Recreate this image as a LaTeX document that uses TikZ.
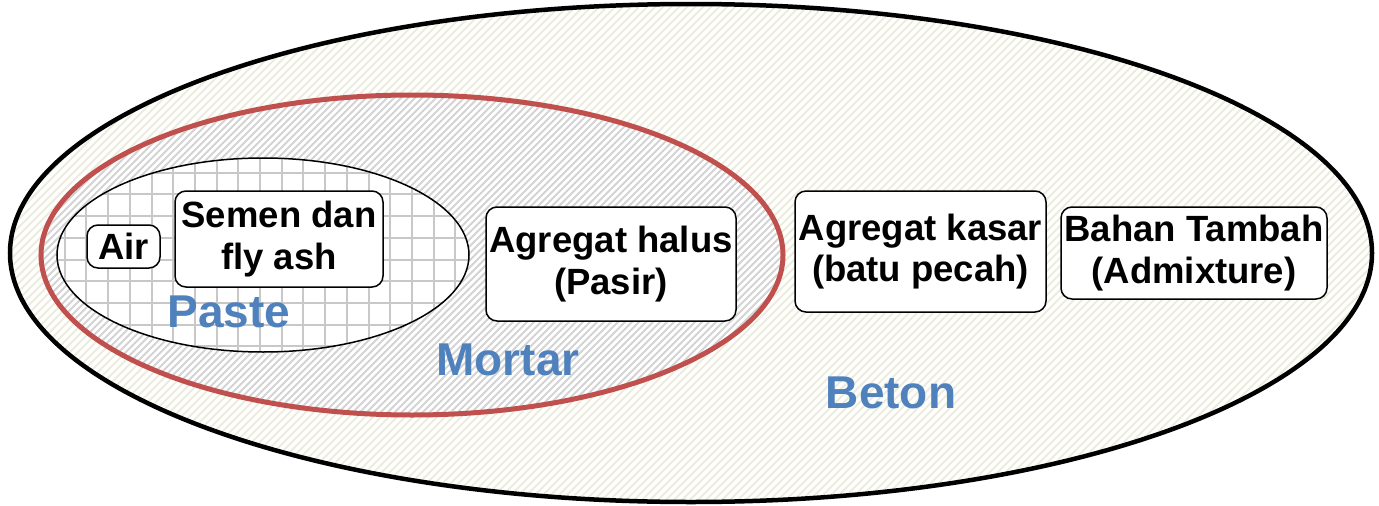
\documentclass[tikz,border=0pt]{standalone}
\usepackage{fontspec}
\setmainfont{Liberation Sans}
\usetikzlibrary{shapes.geometric}
\definecolor{lblue}{HTML}{4F81BD}
\definecolor{lred}{HTML}{C0504D}
\definecolor{beige}{HTML}{ECECDF}
\definecolor{stripegrey}{HTML}{D4D4D4}
\definecolor{gridgrey}{HTML}{C8C8C8}
\tikzset{
  box/.style={draw=black, line width=1.5pt, rounded corners=11pt, fill=white, align=center, inner sep=0pt,
    font=\fontsize{36.5}{41.5}\selectfont\bfseries},
  biglabel/.style={text=lblue, font=\fontsize{46}{50}\selectfont\bfseries, anchor=base, inner sep=0pt}
}
\begin{document}
\begin{tikzpicture}[x=1pt,y=-1pt]
\useasboundingbox (0,0) rectangle (1379,506);
% outer region
\begin{scope}
  \clip (691,253) ellipse [x radius=681, y radius=249];
  \fill[white] (0,0) rectangle (1379,506);
  \foreach \i in {-560,-552,...,1400} \draw[beige, line width=2pt] (\i,510) -- (\i+510,0);
\end{scope}
% mortar region
\begin{scope}
  \clip (412,255) ellipse [x radius=371, y radius=160];
  \fill[white] (0,0) rectangle (1379,506);
  \foreach \i in {-460,-453,...,800} \draw[stripegrey, line width=2pt] (\i,420) -- (\i+330,90);
\end{scope}
% paste region
\begin{scope}
  \clip (263,255) ellipse [x radius=206, y radius=97];
  \fill[white] (0,0) rectangle (1379,506);
  \foreach \i in {43,64.7,...,480} \draw[gridgrey, line width=2pt] (\i,150) -- (\i,360);
  \foreach \j in {151,172.7,...,360} \draw[gridgrey, line width=2pt] (50,\j) -- (480,\j);
\end{scope}
\node[draw=black, line width=4.5pt, ellipse, minimum width=1362pt, minimum height=498pt, inner sep=0pt] (beton) at (691,253) {};
\node[draw=lred, line width=5pt, ellipse, minimum width=742pt, minimum height=320pt, inner sep=0pt] (mortarset) at (412,255) {};
\node[draw=black, line width=1.5pt, ellipse, minimum width=412pt, minimum height=194pt, inner sep=0pt] (pasteset) at (263,255) {};
\node[box, minimum width=73pt, minimum height=43pt] (air) at (123.5,246.5) {Air};
\node[box, minimum width=208pt, minimum height=96pt] (semen) at (279,239) {Semen dan\\fly ash};
\node[box, minimum width=250pt, minimum height=114pt] (halus) at (611,264) {Agregat halus\\(Pasir)};
\node[box, minimum width=251pt, minimum height=121pt] (kasar) at (920.5,251.5) {Agregat kasar\\(batu pecah)};
\node[box, minimum width=266pt, minimum height=92pt] (tambah) at (1194,253) {Bahan Tambah\\(Admixture)};
\node[biglabel] (paste) at (229,327) {Paste};
\node[biglabel] (mortar) at (508,375) {Mortar};
\node[biglabel] (betonlabel) at (891,408) {Beton};
\end{tikzpicture}
\end{document}
